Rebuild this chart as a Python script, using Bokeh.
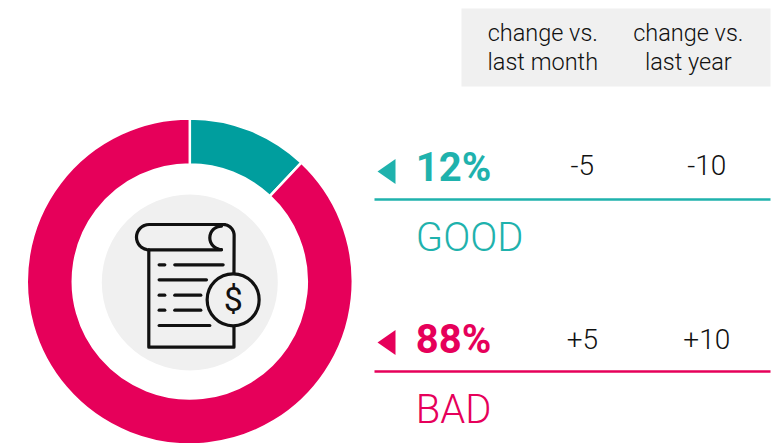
import math
from bokeh.plotting import figure
from bokeh.models import Range1d
from bokeh.core.properties import value
from bokeh.embed import file_html
from bokeh.resources import INLINE

categories = ["GOOD", "BAD"]
shares = [12, 88]
change_month = ["-5", "+5"]
change_year = ["-10", "+10"]
column_heads = [["change vs.", "last month"], ["change vs.", "last year"]]

W, H = 775, 443
TEAL_D, TEAL, PINK, GREY, INK = "#009E9E", "#1FB2AD", "#E6005A", "#F0F0F0", "#111111"
colors_d = [TEAL_D, PINK]
colors_t = [TEAL, PINK]
FONT = "Roboto"
LIGHT = "Roboto Light"

X = lambda px: px - 0.7
Y = lambda py: 443 - py

p = figure(width=W, height=H, x_range=Range1d(0, W), y_range=Range1d(0, H),
           toolbar_location=None, output_backend="svg", min_border=0,
           outline_line_color=None)
p.axis.visible = False
p.grid.visible = False

def label(px, by, txt, font, size, color, align="left", style="normal"):
    # baseline correction for the glyph's vertical text offset
    p.text(x=[X(px)], y=[Y(by - 0.4 * size)], text=[txt], text_font=value(font), text_font_size=f"{size}px",
           text_font_style=style, text_color=color, text_align=align, text_baseline="alphabetic")

# donut from shares
cx, cy = X(190), Y(281)
total = sum(shares)
angle = math.pi / 2
for s, c in zip(shares, colors_d):
    end = angle - 2 * math.pi * s / total
    p.annular_wedge(x=cx, y=cy, inner_radius=117, outer_radius=163, start_angle=end, end_angle=angle,
                    fill_color=c, line_color="white", line_width=2.5)
    angle = end

p.circle(x=cx, y=cy + -1, radius=88, fill_color=GREY, line_color=None)

# icon
ZX = lambda z: X(100 + z / 3)
ZY = lambda z: Y(190 + z / 3)
def path(xs, ys, w=3.2):
    p.line([ZX(v) for v in xs], [ZY(v) for v in ys], line_color=INK, line_width=w,
           line_cap="round", line_join="round")
def arc_pts(zcx, zcy, r, a0, a1, n=16):
    return ([zcx + r * math.cos(math.radians(a0 + (a1 - a0) * i / n)) for i in range(n + 1)],
            [zcy + r * math.sin(math.radians(a0 + (a1 - a0) * i / n)) for i in range(n + 1)])

lx, ly = arc_pts(148, 140, 38, 90, 270)
path([365] + lx + [375], [178] + ly + [102])
rx, ry = arc_pts(370, 135, 33, -90, 0)
path(rx + [402.5], ry + [250])
cxs, cys = arc_pts(365, 142, 35, 270, 90)
path(cxs, cys)
path([402.5, 402.5, 147, 147], [408, 470, 470, 178])
for y_, a, b in [(223, 225, 370), (268, 178, 320), (314, 225, 303), (359, 225, 303), (405, 178, 330)]:
    path([a, b], [y_, y_])
for y_ in (223, 314, 359):
    path([178, 195], [y_, y_])
p.circle(x=ZX(400), y=ZY(328), radius=26, fill_color=GREY, line_color=INK, line_width=3.2)
label(233.5, 312, "$", FONT, 34, INK, "center")

# header
p.quad(left=X(461.7), right=X(770.7), top=Y(8), bottom=Y(86), fill_color=GREY, line_color=None)
for head, xc in zip(column_heads, (543, 688.5)):
    for line, by in zip(head, (42, 71)):
        label(xc, by, line, LIGHT, 23.5, INK, "center")

# rows
row_base = [(183, 176, 253, 199, 171), (355, 350, 425, 371, 342)]
for i, (bp, bc, bl, rule, tri) in enumerate(row_base):
    col = colors_t[i]
    p.patch([X(377.7), X(395.7), X(395.7)], [Y(tri), Y(tri - 12.5), Y(tri + 12.5)], fill_color=col, line_color=None)
    label(416, bp, f"{shares[i]}%", FONT, 40, col, style="bold")
    p.line([X(374.7), X(770.7)], [Y(rule), Y(rule)], line_color=col, line_width=2.5)
    label(416, bl, categories[i], LIGHT, 40, col)
    label(582.5, bc, change_month[i], LIGHT, 28, INK, "center")
    label(707, bc, change_year[i], LIGHT, 28, INK, "center")

open("out.html", "w").write(file_html(p, INLINE))
